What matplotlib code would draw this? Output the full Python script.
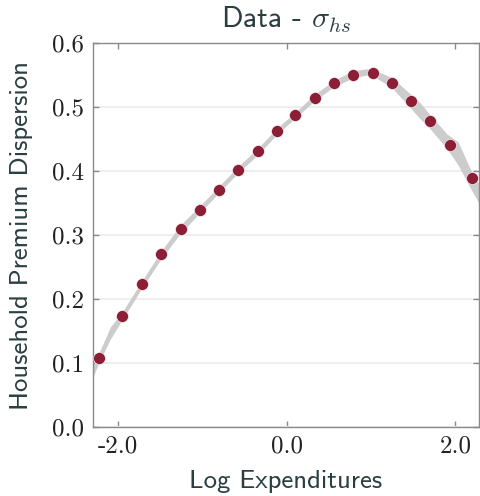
import matplotlib
matplotlib.use('Agg')
import matplotlib.pyplot as plt

plt.rcParams['mathtext.fontset'] = 'cm'

# binned data points
log_exp = [-2.23, -1.96, -1.72, -1.49, -1.26, -1.03, -0.80, -0.58, -0.34, -0.12,
           0.10, 0.33, 0.56, 0.79, 1.02, 1.25, 1.47, 1.70, 1.93, 2.20]
dispersion = [0.108, 0.173, 0.223, 0.270, 0.309, 0.340, 0.371, 0.402, 0.431, 0.462,
              0.488, 0.515, 0.537, 0.550, 0.554, 0.538, 0.510, 0.479, 0.441, 0.390]

# confidence band
band_x = [-2.30, -2.23, -2.09, -1.96, -1.72, -1.49, -1.26, -1.03, -0.80, -0.58, -0.34,
          -0.12, 0.10, 0.33, 0.56, 0.79, 0.95, 1.02, 1.25, 1.47, 1.58, 1.70, 1.90,
          2.03, 2.17, 2.30]
band_lo = [0.078, 0.100, 0.138, 0.166, 0.217, 0.263, 0.303, 0.335, 0.367, 0.397, 0.426,
           0.457, 0.483, 0.510, 0.532, 0.546, 0.550, 0.549, 0.530, 0.498, 0.482, 0.466,
           0.435, 0.410, 0.375, 0.345]
band_hi = [0.095, 0.115, 0.157, 0.178, 0.228, 0.275, 0.316, 0.346, 0.377, 0.407, 0.436,
           0.467, 0.492, 0.520, 0.542, 0.557, 0.560, 0.559, 0.546, 0.520, 0.507, 0.488,
           0.458, 0.446, 0.405, 0.375]

xticks = [-2.0, 0.0, 2.0]
xticklabels = ['-2.0', '0.0', '2.0']
yticks = [0.0, 0.1, 0.2, 0.3, 0.4, 0.5, 0.6]

text_color = '#2b3e40'
dot_color = '#8c1f36'
spine_color = '#8a8a8a'

fig = plt.figure(figsize=(4.81, 4.96), dpi=100)
ax = fig.add_axes([0.193, 0.139, 0.803, 0.774])

ax.fill_between(band_x, band_lo, band_hi, color='#cccccc', linewidth=0, zorder=2)
ax.plot(log_exp, dispersion, 'o', color=dot_color, markersize=8.6,
        markeredgecolor='white', markeredgewidth=0.4, zorder=3)

ax.set_xlim(-2.30, 2.28)
ax.set_ylim(0.0, 0.6)
ax.set_xticks(xticks)
ax.set_xticklabels(xticklabels)
ax.set_yticks(yticks)
ax.set_yticklabels([f'{v:.1f}' for v in yticks])

for lab in ax.get_xticklabels() + ax.get_yticklabels():
    lab.set_fontfamily('cmr10')
    lab.set_fontsize(18)
    lab.set_color('#222222')

ax.yaxis.grid(True, color='#eeeeee', linewidth=1.5, zorder=0)
ax.set_axisbelow(True)
for s in ax.spines.values():
    s.set_color(spine_color)
    s.set_linewidth(1.0)
ax.tick_params(direction='in', length=4, width=1, color=spine_color,
               top=True, right=True, pad=6)

ax.set_xlabel('Log Expenditures', fontfamily='cmss10', fontsize=19.3, color=text_color, labelpad=9)
ax.set_ylabel('Household Premium Dispersion', fontfamily='cmss10', fontsize=19.3,
              color=text_color, labelpad=14)
ax.set_title(r'Data - $\sigma_{hs}$', fontfamily='cmss10', fontsize=21.5, color=text_color, pad=11)

fig.savefig('out.png', dpi=100)
